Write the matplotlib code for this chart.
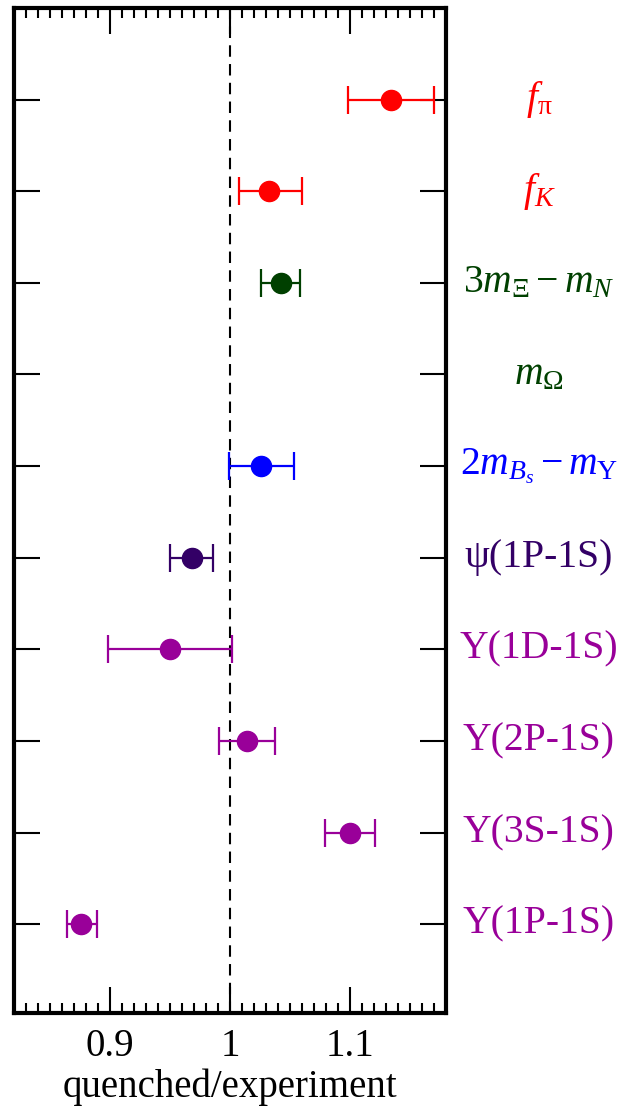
import matplotlib
matplotlib.use("Agg")
import matplotlib.pyplot as plt
import matplotlib.transforms as mtransforms

plt.rcParams['font.family'] = ['Liberation Serif', 'DejaVu Serif']
plt.rcParams['mathtext.fontset'] = 'custom'
plt.rcParams['mathtext.rm'] = 'Liberation Serif'
plt.rcParams['mathtext.it'] = 'Liberation Serif:italic'

# rows from top to bottom
labels = [r'$f_{\mathrm{\pi}}$', r'$f_K$', r'$3m_{\Xi} - m_N$', r'$m_{\Omega}$',
          r'$2m_{B_s} - m_{\mathrm{Υ}}$', 'ψ(1P-1S)', 'Υ(1D-1S)', 'Υ(2P-1S)',
          'Υ(3S-1S)', 'Υ(1P-1S)']
colors = ['#ff0000', '#ff0000', '#004000', '#004000', '#0000ff',
          '#330066', '#990099', '#990099', '#990099', '#990099']
# ratio quenched/experiment, None = no point
ratio = [1.134, 1.0325, 1.0425, None, 1.026, 0.968, 0.950, 1.014, 1.100, 0.876]
err_lo = [1.098, 1.0075, 1.026, None, 0.999, 0.950, 0.898, 0.991, 1.079, 0.864]
err_hi = [1.170, 1.060, 1.058, None, 1.053, 0.986, 1.002, 1.0375, 1.121, 0.889]

fig = plt.figure(figsize=(6.21, 11.09), dpi=100)
ax = fig.add_axes([14/621, 1-1013/1109, 432/621, 1005/1109])

ax.axvline(1.0, color='black', lw=1.5, ls=(0, (5.5, 3.5)), zorder=1)

n = len(labels)
for i in range(n):
    ypos = n - i
    if ratio[i] is not None:
        ax.errorbar(ratio[i], ypos,
                    xerr=[[ratio[i] - err_lo[i]], [err_hi[i] - ratio[i]]],
                    fmt='o', color=colors[i], ms=14.5, elinewidth=1.6,
                    capsize=10, capthick=1.6, zorder=3)

trans = mtransforms.blended_transform_factory(ax.transAxes, ax.transData)
for i in range(n):
    ax.text(1.215, n - i, labels[i], color=colors[i], fontsize=28.5,
            ha='center', va='center', transform=trans)

ax.set_xlim(0.82, 1.18)
ax.set_ylim(0.03, 11)
ax.set_xticks([0.9, 1.0, 1.1])
ax.set_xticklabels(['0.9', '1', '1.1'])
ax.set_xticks([0.82 + 0.01 * k for k in range(37)], minor=True)
ax.set_yticks(range(1, n + 1))
ax.set_yticklabels([])
ax.tick_params(axis='x', which='major', direction='in', top=True, bottom=True,
               length=19, width=1.5, labelsize=28, pad=11)
ax.tick_params(axis='x', which='minor', direction='in', top=True, bottom=True,
               length=7.5, width=1.5)
ax.tick_params(axis='y', which='major', direction='in', left=True, right=True,
               length=19, width=1.5)
for s in ax.spines.values():
    s.set_linewidth(3)

ax.set_xlabel('quenched/experiment', fontsize=28, labelpad=2)

fig.savefig('out.png', dpi=100)
